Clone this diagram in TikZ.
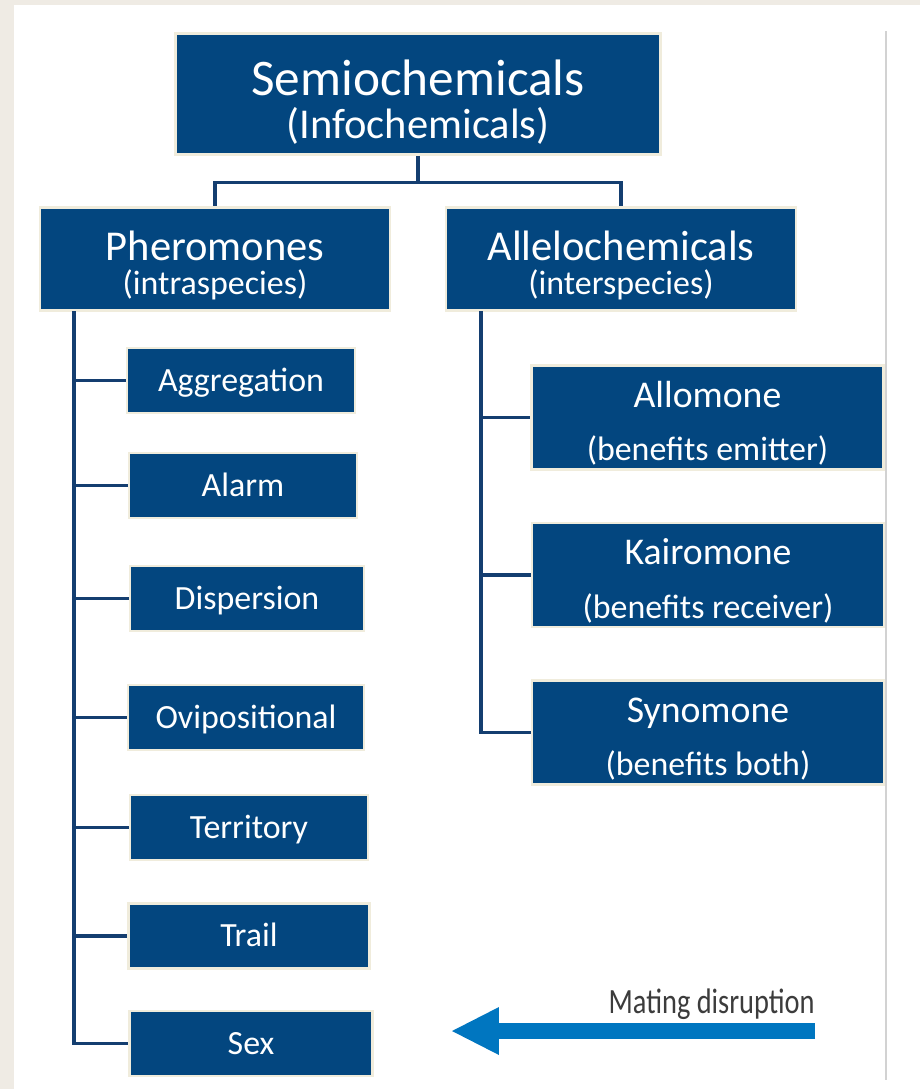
\documentclass[tikz,border=0pt]{standalone}
\usepackage{fontspec}
\setmainfont{Carlito}
\newfontfamily\notefont[FakeStretch=0.8]{Carlito}
\usetikzlibrary{positioning,arrows.meta}
\definecolor{boxblue}{RGB}{3,70,127}
\definecolor{boxedge}{RGB}{240,236,220}
\definecolor{linenavy}{RGB}{20,62,112}
\definecolor{arrowblue}{RGB}{0,118,192}
\definecolor{bgbeige}{RGB}{239,235,228}
\definecolor{panelline}{RGB}{210,210,210}
\definecolor{notegrey}{RGB}{60,60,60}
\tikzset{
    box/.style = {draw=boxedge, line width=1.6pt, fill=boxblue, text=white, inner sep=0pt, align=center},
    topbox/.style = {box, minimum width=9.7cm, minimum height=2.42cm, font=\fontsize{24.2}{24.4}\selectfont},
    groupbox/.style = {box, minimum width=7cm, minimum height=2.06cm, font=\fontsize{19.3}{19.8}\selectfont},
    leaf/.style = {box, minimum height=1.3cm, font=\fontsize{19.3}{20}\selectfont, text height=12.4pt, text depth=0pt},
    sidebox/.style = {box, minimum width=7.04cm, minimum height=2.08cm, font=\fontsize{19.3}{30.4}\selectfont},
    link/.style = {draw=linenavy, line width=2pt},
    bigarrow/.style = {draw=arrowblue, line width=9pt, -{Triangle[length=0.94cm, width=0.96cm, line width=0pt]}},
    notelabel/.style = {font=\notefont\fontsize{20.2}{24}\selectfont, text=notegrey, inner sep=0pt},
}
% first (larger) line of a two-line box, with a strut to push the text down a bit
\newcommand{\bigline}[2]{{\fontsize{#1}{24}\selectfont\rule{0pt}{#1pt}#2}}

\begin{document}
\begin{tikzpicture}[x=0.02cm, y=-0.02cm]
    % page and panel
    \useasboundingbox (0,0) rectangle (920,1089);
    \fill[bgbeige] (0,0) rectangle (920,1089);
    \fill[white] (14,5) rectangle (920,1089);
    \draw[panelline, line width=0.6pt] (886,31) -- (886,1080);

    % top level
    \node[topbox] (semio) at (418,94) {\bigline{29.2}{Semiochemicals}\\(Infochemicals)};
    \node[groupbox] (phero) at (215,259) {\bigline{24.2}{Pheromones}\\(intraspecies)};
    \node[groupbox] (allelo) at (621,259) {\bigline{24.2}{Allelochemicals}\\(interspecies)};

    % pheromone types
    \node[leaf, minimum width=4.56cm] (agg) at (241,380.5) {Aggregation};
    \node[leaf, minimum width=4.56cm] (alarm) at (243,485.5) {Alarm};
    \node[leaf, minimum width=4.68cm] (disp) at (247,598.5) {Dispersion};
    \node[leaf, minimum width=4.72cm] (ovi) at (246,717.5) {Ovipositional};
    \node[leaf, minimum width=4.76cm] (terr) at (249,827.5) {Territory};
    \node[leaf, minimum width=4.82cm] (trail) at (249,936) {Trail};
    \node[leaf, minimum width=4.86cm] (sex) at (251,1043.5) {Sex};

    % allelochemical types
    \node[sidebox] (allom) at (707.5,417.5) {\bigline{21.5}{Allomone}\\(benefits emitter)};
    \node[sidebox] (kair) at (708,575) {\bigline{21.5}{Kairomone}\\(benefits receiver)};
    \node[sidebox] (syno) at (708,732.5) {\bigline{21.5}{Synomone}\\(benefits both)};

    % tree lines
    \coordinate (split) at ([yshift=-0.53cm]semio.south);
    \draw[link] (semio.south) -- (split) -| (phero.north);
    \draw[link] (split) -| (allelo.north);

    \coordinate (lspine) at (74,311);
    \draw[link] (lspine) |- (sex.west);
    \foreach \n in {agg,alarm,disp,ovi,terr,trail}
        \draw[link] (lspine |- \n.west) -- (\n.west);

    \coordinate (rspine) at (481,311);
    \draw[link] (rspine) |- (syno.west);
    \foreach \n in {allom,kair}
        \draw[link] (rspine |- \n.west) -- (\n.west);

    % mating disruption
    \coordinate (mdstart) at (815,1031);
    \coordinate (mdtip) at (452,1031);
    \draw[bigarrow] (mdstart) -- (mdtip);
    \node[notelabel, anchor=base east] (mdlabel) at (815,1013) {Mating disruption};
\end{tikzpicture}
\end{document}
